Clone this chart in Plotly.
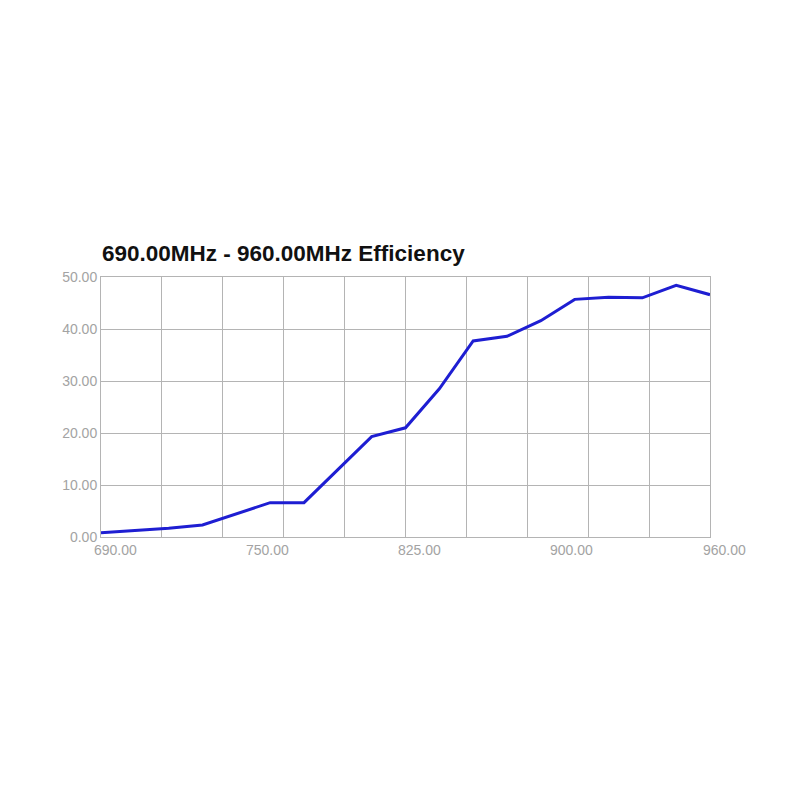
import plotly.graph_objects as go

# frequency (MHz) and efficiency (%)
freq = [690, 705, 720, 735, 750, 765, 780, 795, 810, 825,
        840, 855, 870, 885, 900, 915, 930, 945, 960]
efficiency = [0.8, 1.2, 1.7, 2.3, 4.4, 6.6, 6.6, 12.9, 19.3, 21.0,
              28.5, 37.7, 38.6, 41.6, 45.7, 46.1, 46.0, 48.4, 46.6]

x_tickvals = [690, 757.5, 825, 892.5, 960]
x_ticktext = ["690.00", "750.00", "825.00", "900.00", "960.00"]

grid = "#b4b4b4"
label_font = dict(family="Liberation Sans, Arial", size=14, color="#a3a3a3")

fig = go.Figure()
fig.add_trace(go.Scatter(x=freq, y=efficiency, mode="lines",
                         line=dict(color="#1e1ed2", width=3),
                         showlegend=False, hoverinfo="x+y"))

# x labels sit between the grid lines, so they are placed as annotations
for v, t in zip(x_tickvals, x_ticktext):
    fig.add_annotation(x=v, xref="x", y=0, yref="paper", text=t,
                       showarrow=False, xanchor="center", yanchor="top",
                       xshift=14, yshift=-3, font=label_font)

# the page body has an 8px margin, so the margins are reduced by 8
fig.update_layout(
    width=800, height=800,
    paper_bgcolor="white", plot_bgcolor="white",
    margin=dict(l=93, r=98, t=269, b=271),
    title=dict(text="<b>690.00MHz - 960.00MHz Efficiency</b>",
               font=dict(family="Liberation Sans, Arial", size=22.5, color="#111111"),
               x=94 / 800, xref="container", xanchor="left",
               y=1 - 245 / 800, yref="container", yanchor="middle"),
    xaxis=dict(range=[690, 960], tickmode="linear", tick0=690, dtick=27,
               showgrid=True, gridcolor=grid, gridwidth=1,
               showticklabels=False, zeroline=False, ticks="",
               showline=True, mirror=True, linecolor=grid, linewidth=1),
    yaxis=dict(range=[0, 50], dtick=10, tickformat=".2f",
               showgrid=True, gridcolor=grid, gridwidth=1, zeroline=False,
               ticks="", showline=True, mirror=True, linecolor=grid,
               tickfont=label_font),
)

fig.write_html("out.html")
